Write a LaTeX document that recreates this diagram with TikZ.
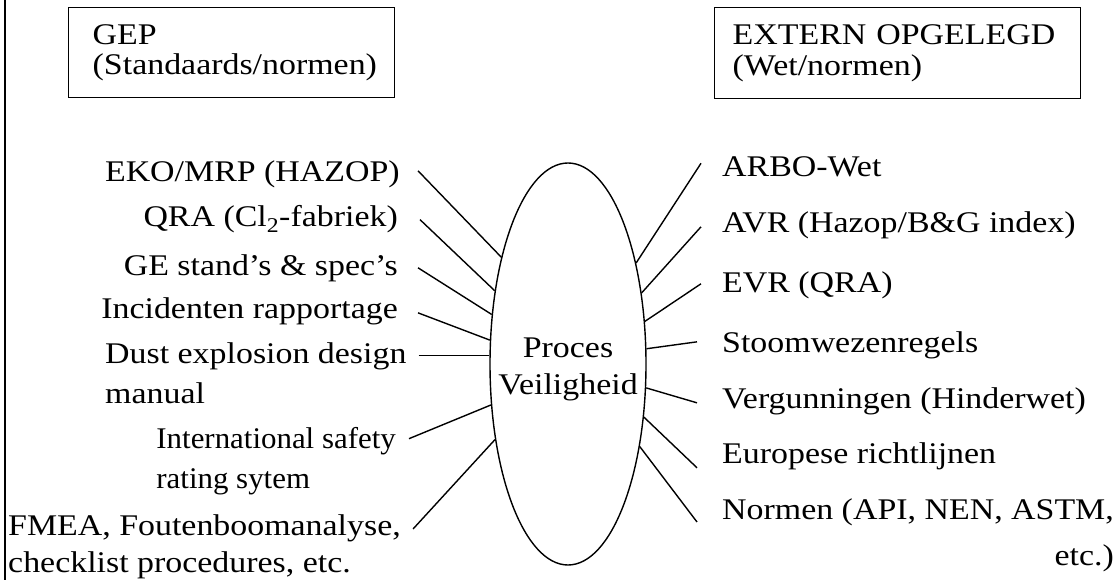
\documentclass[tikz,border=0pt]{standalone}
\usepackage{fontspec}
\setmainfont{Liberation Serif}[FakeStretch=1.13]
\newfontfamily\plainserif{Liberation Serif}[FakeStretch=1.03]
\usetikzlibrary{shapes.geometric}
\begin{document}
\begin{tikzpicture}[x=1pt,y=-1pt,
  every node/.style={inner sep=0pt, font=\fontsize{30}{38}\selectfont},
  box/.style={draw, line width=1.4pt, anchor=north west, align=left, inner ysep=0pt},
  lab/.style={align=left},
  link/.style={line width=1.4pt},
]
\useasboundingbox (0,0) rectangle (1119,580);
\draw[line width=1.8pt] (5,0) -- (5,580);

\node[box, minimum width=326pt, minimum height=90pt, inner xsep=24pt, text width=278pt, font=\fontsize{30}{30}\selectfont] (gep) at (68,7) {GEP\\(Standaards/normen)};
\node[box, minimum width=366pt, minimum height=91pt, inner xsep=18pt, text width=330pt, font=\fontsize{30}{31}\selectfont] (ext) at (714,7) {EXTERN OPGELEGD\\(Wet/normen)};

\node[draw, ellipse, line width=1.4pt, minimum width=156pt, minimum height=402pt] (pv) at (568,364) {};
\node[align=center, font=\fontsize{30}{37}\selectfont] (pvt) at (568,369) {Proces\\Veiligheid};

% left labels
\node[anchor=base east] (eko) at (400,182) {EKO/MRP (HAZOP)};
\node[anchor=base east] (qra) at (398,227) {QRA (Cl\textsubscript{2}-fabriek)};
\node[anchor=base east] (ge) at (398,275) {GE stand’s \& spec’s};
\node[anchor=base east] (inc) at (398,318) {Incidenten rapportage};
\node[lab, anchor=base west, font=\fontsize{30}{40}\selectfont] (dust) at (105,403) {Dust explosion design\\manual};
\node[lab, anchor=base east, font=\plainserif\fontsize{30}{40}\selectfont] (intl) at (396,488) {International safety\\rating sytem};
\node[lab, anchor=base west, font=\fontsize{30}{37}\selectfont] (fmea) at (8,572) {FMEA, Foutenboomanalyse,\\checklist procedures, etc.};

% right labels
\node[anchor=base west] (arbo) at (722,177) {ARBO-Wet};
\node[anchor=base west] (avr) at (722,233) {AVR (Hazop/B\&G index)};
\node[anchor=base west] (evr) at (722,292) {EVR (QRA)};
\node[anchor=base west] (stoom) at (722,352) {Stoomwezenregels};
\node[anchor=base west] (verg) at (722,408) {Vergunningen (Hinderwet)};
\node[anchor=base west] (euro) at (722,463) {Europese richtlijnen};
\node[align=right, anchor=base west, font=\fontsize{30}{46}\selectfont] (norm) at (722,565) {Normen (API, NEN, ASTM,\\etc.)};

% connectors left
\draw[link] ([xshift=18pt,yshift=4pt]eko.east) -- (pv.122.4);
\draw[link] ([xshift=22pt]qra.east) -- (pv.135.4);
\draw[link] ([xshift=20pt]ge.east) -- (pv.147.2);
\draw[link] ([xshift=20pt,yshift=-2pt]inc.east) -- (pv.163.5);
\draw[link] ([xshift=12pt]dust.north east |- pv.174) -- (pv.174);
\draw[link] ([xshift=13pt,yshift=-12pt]intl.north east) -- (pv.208.3);
\draw[link] ([xshift=12pt,yshift=-15pt]fmea.north east) -- (pv.226.9);

% connectors right
\draw[link] ([xshift=-21pt,yshift=4pt]arbo.west) -- (pv.56.1);
\draw[link] ([xshift=-21pt,yshift=-1pt]avr.west) -- (pv.44.2);
\draw[link] ([xshift=-21pt,yshift=1pt]evr.west) -- (pv.29.1);
\draw[link] ([xshift=-25pt,yshift=3pt]stoom.west) -- (pv.11.2);
\draw[link] ([xshift=-25pt,yshift=-2pt]verg.west) -- (pv.343.5);
\draw[link] ([xshift=-25pt,yshift=-12pt]euro.west) -- (pv.325.3);
\draw[link] ([xshift=-25pt,yshift=-24pt]norm.north west) -- (pv.311.3);
\end{tikzpicture}
\end{document}
